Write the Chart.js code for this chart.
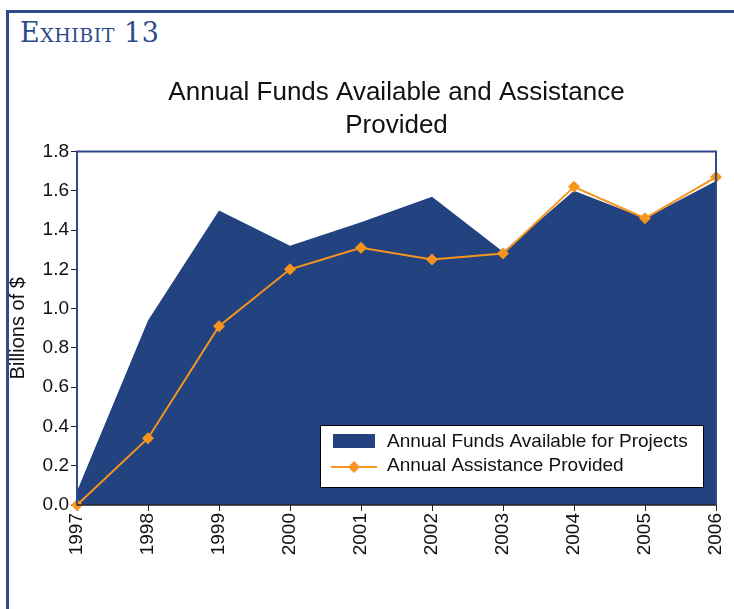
<!DOCTYPE html>
<html>
<head>
<meta charset="utf-8">
<script src="https://cdn.jsdelivr.net/npm/chart.js@4"></script>
<style>
  html, body { margin: 0; padding: 0; background: #fff; }
  #page { position: relative; width: 734px; height: 609px; overflow: hidden; }
  #frame {
    position: absolute; left: 6px; top: 10px; width: 800px; height: 700px;
    border-left: 3px solid #2c4a8c; border-top: 3px solid #2c4a8c;
  }
  #exhibit {
    position: absolute; left: 20px; top: 17px;
    font-family: "DejaVu Serif", "Liberation Serif", serif;
    font-variant: small-caps; font-size: 27px; color: #2c4a8c;
    letter-spacing: 0.5px;
  }
  #chartWrap { position: absolute; left: 0; top: 0; width: 734px; height: 609px; }
</style>
</head>
<body>
<div id="page">
  <div id="frame"></div>
  <div id="exhibit">Exhibit 13</div>
  <div id="chartWrap"><canvas id="fundsChart" width="734" height="609"></canvas></div>
</div>
<script>
// Billions of dollars per year
const years = ['1997', '1998', '1999', '2000', '2001', '2002', '2003', '2004', '2005', '2006'];
const fundsAvailable = [0.07, 0.94, 1.50, 1.32, 1.44, 1.57, 1.29, 1.60, 1.46, 1.65];
const assistanceProvided = [0.00, 0.34, 0.91, 1.20, 1.31, 1.25, 1.28, 1.62, 1.46, 1.67];
const yTicks = [0, 0.2, 0.4, 0.6, 0.8, 1.0, 1.2, 1.4, 1.6, 1.8];

const NAVY = '#22437f';
const ORANGE = '#f7941d';
const FRAME_BLUE = '#2c4a8c';
const FONT = 'Arial, "Liberation Sans", sans-serif';

// plot frame: blue on top/left/right, black base line
const plotFrame = {
    id: 'plotFrame',
    afterDatasetsDraw(chart) {
        const { ctx, chartArea: a } = chart;
        ctx.save();
        ctx.strokeStyle = FRAME_BLUE;
        ctx.lineWidth = 2;
        ctx.beginPath();
        ctx.moveTo(a.left, a.bottom);
        ctx.lineTo(a.left, a.top);
        ctx.lineTo(a.right, a.top);
        ctx.lineTo(a.right, a.bottom);
        ctx.stroke();
        ctx.strokeStyle = '#222';
        ctx.lineWidth = 1.5;
        ctx.beginPath();
        ctx.moveTo(a.left, a.bottom);
        ctx.lineTo(a.right, a.bottom);
        ctx.stroke();
        ctx.restore();
    }
};

// legend box drawn inside the plot, lower right
const insideLegend = {
    id: 'insideLegend',
    afterDraw(chart) {
        const { ctx, chartArea: a } = chart;
        const ds = chart.data.datasets;
        const w = 383, h = 62;
        const x = a.right - 13 - w, y = a.bottom - 18 - h;
        ctx.save();
        ctx.fillStyle = '#fff';
        ctx.fillRect(x, y, w, h);
        ctx.strokeStyle = '#000';
        ctx.lineWidth = 1;
        ctx.strokeRect(x + 0.5, y + 0.5, w, h);

        ctx.font = '19px ' + FONT;
        ctx.textBaseline = 'middle';

        // area swatch
        ctx.fillStyle = ds[0].backgroundColor;
        ctx.fillRect(x + 13, y + 9, 42, 14);
        ctx.fillStyle = '#111';
        ctx.fillText(ds[0].label, x + 67, y + 17);

        // line swatch with diamond
        const ly = y + 42;
        ctx.strokeStyle = ds[1].borderColor;
        ctx.lineWidth = 2;
        ctx.beginPath();
        ctx.moveTo(x + 11, ly);
        ctx.lineTo(x + 57, ly);
        ctx.stroke();
        ctx.fillStyle = ds[1].pointBackgroundColor;
        ctx.beginPath();
        ctx.moveTo(x + 34, ly - 6);
        ctx.lineTo(x + 40, ly);
        ctx.lineTo(x + 34, ly + 6);
        ctx.lineTo(x + 28, ly);
        ctx.closePath();
        ctx.fill();
        ctx.fillStyle = '#111';
        ctx.fillText(ds[1].label, x + 67, ly - 1);
        ctx.restore();
    }
};

const ctx = document.getElementById('fundsChart').getContext('2d');

new Chart(ctx, {
    type: 'line',
    data: {
        labels: years,
        datasets: [{
            label: 'Annual Funds Available for Projects',
            data: fundsAvailable,
            fill: 'origin',
            backgroundColor: NAVY,
            borderColor: NAVY,
            borderWidth: 0,
            pointRadius: 0,
            tension: 0,
            order: 2
        }, {
            label: 'Annual Assistance Provided',
            data: assistanceProvided,
            fill: false,
            borderColor: ORANGE,
            borderWidth: 2,
            pointStyle: 'rectRot',
            pointRadius: 6,
            pointBackgroundColor: ORANGE,
            pointBorderColor: ORANGE,
            pointBorderWidth: 0,
            tension: 0,
            clip: false,
            order: 1
        }]
    },
    options: {
        responsive: false,
        animation: false,
        events: [],
        layout: {
            padding: { top: 0, right: 18, bottom: 40, left: 6 }
        },
        scales: {
            x: {
                offset: false,
                grid: {
                    drawOnChartArea: false,
                    drawTicks: true,
                    tickLength: 6,
                    color: '#222'
                },
                border: { display: false },
                ticks: {
                    color: '#111',
                    font: { family: FONT, size: 19 },
                    maxRotation: 90,
                    minRotation: 90,
                    padding: 2
                },
                afterFit(scale) {
                    scale.height = 64;
                    scale.paddingLeft = 0;
                    scale.paddingRight = 0;
                }
            },
            y: {
                min: 0,
                max: 1.8,
                afterBuildTicks(scale) {
                    scale.ticks = yTicks.map(v => ({ value: v }));
                },
                grid: {
                    drawOnChartArea: false,
                    drawTicks: true,
                    tickLength: 6,
                    color: '#222'
                },
                border: { display: false },
                ticks: {
                    color: '#111',
                    font: { family: FONT, size: 19 },
                    padding: 2,
                    callback: v => Number(v).toFixed(1)
                },
                title: {
                    display: true,
                    text: 'Billions of $',
                    color: '#111',
                    font: { family: FONT, size: 20 },
                    padding: { top: 0, bottom: 0 }
                },
                afterFit(scale) {
                    scale.width = 71;
                    scale.paddingTop = 0;
                    scale.paddingBottom = 0;
                }
            }
        },
        plugins: {
            legend: { display: false },
            tooltip: { enabled: false },
            title: {
                display: true,
                fullSize: false,
                text: ['Annual Funds Available and Assistance', 'Provided'],
                color: '#111',
                font: { family: FONT, size: 26, weight: 'normal', lineHeight: 1.24 },
                padding: { top: 77, bottom: 10 }
            }
        }
    },
    plugins: [plotFrame, insideLegend]
});
</script>
</body>
</html>
